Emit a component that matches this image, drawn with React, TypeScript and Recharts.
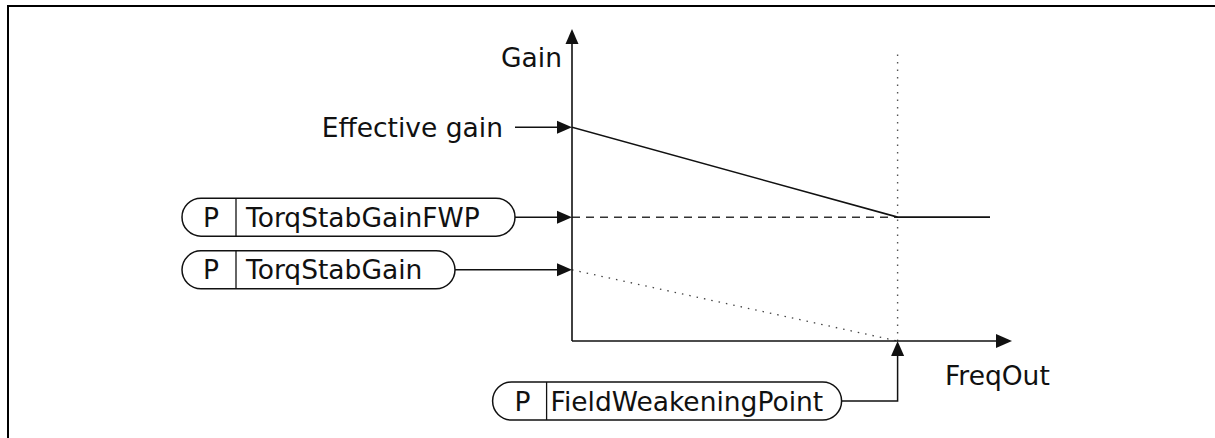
import React from "react";
import { LineChart, Line, XAxis, YAxis, ReferenceLine, ReferenceDot } from "recharts";

// Data (arbitrary units: frequency 0..100, gain 0..10)
const fieldWeakeningPoint = 74;
const freqAxisMax = 100;
const gainAxisMax = 10;
const effectiveGainAtZero = 6.85;
const torqStabGainFWP = 3.97;
const torqStabGain = 2.28;
const lineEnd = 95;
const fwpMarkerTop = 9.26;

const effectiveGain = [
  { f: 0, g: effectiveGainAtZero },
  { f: fieldWeakeningPoint, g: torqStabGainFWP },
  { f: lineEnd, g: torqStabGainFWP },
];
const fwpGainLevel = [
  { f: 0, g: torqStabGainFWP },
  { f: fieldWeakeningPoint, g: torqStabGainFWP },
];
const baseGain = [
  { f: 0, g: torqStabGain },
  { f: fieldWeakeningPoint, g: 0 },
];

const axisLabels = { y: "Gain", x: "FreqOut" };
const effectiveLabel = "Effective gain";
const paramPrefix = "P";
const paramNames = {
  fwp: "TorqStabGainFWP",
  gain: "TorqStabGain",
  point: "FieldWeakeningPoint",
};

const FONT = "DejaVu Sans";
const FS = 26.5;
const BASE = 9.5;
const INK = "#111";

const ArrowRight = ({ x, y }: { x: number; y: number }) => (
  <polygon points={`${x},${y} ${x - 15},${y - 6.5} ${x - 15},${y + 6.5}`} fill={INK} />
);
const ArrowUp = ({ x, y }: { x: number; y: number }) => (
  <polygon points={`${x},${y} ${x - 6.5},${y + 15} ${x + 6.5},${y + 15}`} fill={INK} />
);

const Pill = ({
  left,
  right,
  cy,
  name,
  pOffset,
  divOffset,
  nameOffset,
}: {
  left: number;
  right: number;
  cy: number;
  name: string;
  pOffset: number;
  divOffset: number;
  nameOffset: number;
}) => (
  <g>
    <rect x={left} y={cy - 19} width={right - left} height={38} rx={19} ry={19} fill="#fff" stroke={INK} strokeWidth={1.5} />
    <line x1={left + divOffset} y1={cy - 19} x2={left + divOffset} y2={cy + 19} stroke={INK} strokeWidth={1.3} />
    <text x={left + pOffset} y={cy + BASE} textAnchor="middle" fontFamily={FONT} fontSize={FS} fill={INK}>
      {paramPrefix}
    </text>
    <text x={left + nameOffset} y={cy + BASE} fontFamily={FONT} fontSize={FS} fill={INK}>
      {name}
    </text>
  </g>
);

export default function App() {
  return (
    <div style={{ position: "absolute", left: 0, top: 0, width: 1215, height: 438, background: "#fff", overflow: "hidden" }}>
      <div
        style={{
          position: "absolute",
          left: 7,
          top: 5,
          width: 1220,
          height: 450,
          borderTop: "2px solid #000",
          borderLeft: "2px solid #000",
        }}
      />
      <div style={{ position: "absolute", left: 0, top: 0 }}>
        <LineChart width={1215} height={438} margin={{ top: 29, right: 203, bottom: 97, left: 572 }}>
          <XAxis type="number" dataKey="f" domain={[0, freqAxisMax]} hide allowDataOverflow />
          <YAxis type="number" dataKey="g" domain={[0, gainAxisMax]} hide allowDataOverflow />

          {/* vertical dotted marker at field weakening point */}
          <ReferenceLine
            segment={[
              { x: fieldWeakeningPoint, y: 0 },
              { x: fieldWeakeningPoint, y: fwpMarkerTop },
            ]}
            stroke="#555"
            strokeWidth={1.4}
            strokeDasharray="1.5 6"
            ifOverflow="visible"
          />

          <Line data={baseGain} dataKey="g" type="linear" stroke="#444" strokeWidth={1.3} strokeDasharray="1.5 6" dot={false} isAnimationActive={false} />
          <Line data={fwpGainLevel} dataKey="g" type="linear" stroke="#333" strokeWidth={1.5} strokeDasharray="8 6" dot={false} isAnimationActive={false} />
          <Line data={effectiveGain} dataKey="g" type="linear" stroke={INK} strokeWidth={1.6} dot={false} isAnimationActive={false} />

          {/* axes */}
          <ReferenceLine segment={[{ x: 0, y: 0 }, { x: freqAxisMax * 0.98, y: 0 }]} stroke={INK} strokeWidth={1.6} ifOverflow="visible" />
          <ReferenceLine segment={[{ x: 0, y: 0 }, { x: 0, y: gainAxisMax * 0.97 }]} stroke={INK} strokeWidth={1.6} ifOverflow="visible" />

          <ReferenceDot
            x={0}
            y={gainAxisMax}
            ifOverflow="visible"
            shape={(p: any) => (
              <g>
                <ArrowUp x={p.cx} y={p.cy} />
                <text x={p.cx - 10} y={p.cy + 38} textAnchor="end" fontFamily={FONT} fontSize={FS} fill={INK}>
                  {axisLabels.y}
                </text>
              </g>
            )}
          />
          <ReferenceDot
            x={freqAxisMax}
            y={0}
            ifOverflow="visible"
            shape={(p: any) => (
              <g>
                <polygon points={`${p.cx},${p.cy} ${p.cx - 16},${p.cy - 7} ${p.cx - 16},${p.cy + 7}`} fill={INK} />
                <text x={p.cx - 67} y={p.cy + 44} fontFamily={FONT} fontSize={FS} fill={INK}>
                  {axisLabels.x}
                </text>
              </g>
            )}
          />

          {/* Effective gain label */}
          <ReferenceDot
            x={0}
            y={effectiveGainAtZero}
            ifOverflow="visible"
            shape={(p: any) => (
              <g>
                <line x1={p.cx - 57} y1={p.cy} x2={p.cx - 10} y2={p.cy} stroke={INK} strokeWidth={1.5} />
                <ArrowRight x={p.cx} y={p.cy} />
                <text x={p.cx - 69} y={p.cy + BASE} textAnchor="end" fontFamily={FONT} fontSize={FS} fill={INK}>
                  {effectiveLabel}
                </text>
              </g>
            )}
          />

          {/* TorqStabGainFWP */}
          <ReferenceDot
            x={0}
            y={torqStabGainFWP}
            ifOverflow="visible"
            shape={(p: any) => (
              <g>
                <line x1={p.cx - 57} y1={p.cy} x2={p.cx - 10} y2={p.cy} stroke={INK} strokeWidth={1.5} />
                <ArrowRight x={p.cx} y={p.cy} />
                <Pill left={p.cx - 390} right={p.cx - 57} cy={p.cy} name={paramNames.fwp} pOffset={29} divOffset={54} nameOffset={64} />
              </g>
            )}
          />

          {/* TorqStabGain */}
          <ReferenceDot
            x={0}
            y={torqStabGain}
            ifOverflow="visible"
            shape={(p: any) => (
              <g>
                <line x1={p.cx - 117} y1={p.cy} x2={p.cx - 10} y2={p.cy} stroke={INK} strokeWidth={1.5} />
                <ArrowRight x={p.cx} y={p.cy} />
                <Pill left={p.cx - 390} right={p.cx - 117} cy={p.cy} name={paramNames.gain} pOffset={29} divOffset={54} nameOffset={64} />
              </g>
            )}
          />

          {/* FieldWeakeningPoint */}
          <ReferenceDot
            x={fieldWeakeningPoint}
            y={0}
            ifOverflow="visible"
            shape={(p: any) => (
              <g>
                <polyline
                  points={`${p.cx - 56},${p.cy + 60} ${p.cx},${p.cy + 60} ${p.cx},${p.cy + 10}`}
                  fill="none"
                  stroke={INK}
                  strokeWidth={1.5}
                />
                <ArrowUp x={p.cx} y={p.cy} />
                <Pill left={p.cx - 405} right={p.cx - 56} cy={p.cy + 60} name={paramNames.point} pOffset={30} divOffset={54} nameOffset={58} />
              </g>
            )}
          />
        </LineChart>
      </div>
    </div>
  );
}
